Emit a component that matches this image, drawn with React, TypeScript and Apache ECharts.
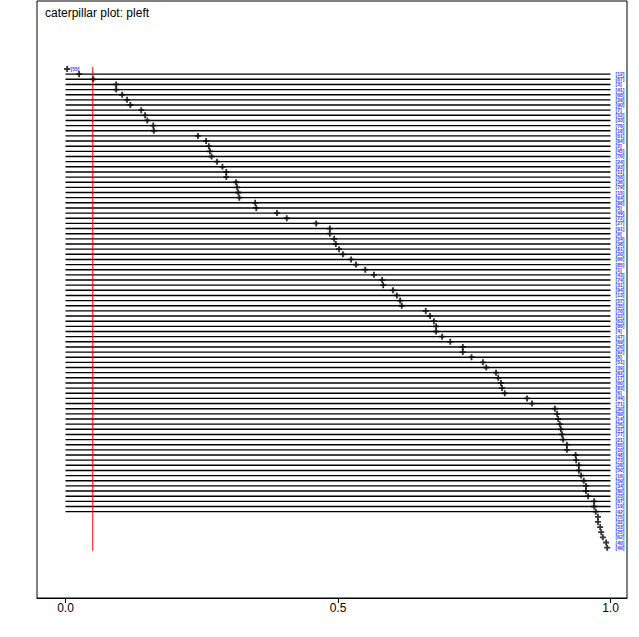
import React, { useEffect, useRef } from "react";
import * as echarts from "echarts";

// posterior summary for each row (sorted)
const rowValues = [
  0.003, 0.025, 0.051, 0.093, 0.093, 0.104, 0.113, 0.119, 0.139, 0.146,
  0.150, 0.161, 0.162, 0.243, 0.258, 0.263, 0.265, 0.268, 0.278, 0.288,
  0.295, 0.295, 0.313, 0.315, 0.317, 0.319, 0.348, 0.350, 0.388, 0.406,
  0.460, 0.485, 0.485, 0.493, 0.496, 0.502, 0.509, 0.524, 0.533, 0.550,
  0.566, 0.581, 0.583, 0.601, 0.608, 0.614, 0.617, 0.661, 0.669, 0.676,
  0.680, 0.680, 0.691, 0.706, 0.729, 0.729, 0.745, 0.766, 0.772, 0.790,
  0.794, 0.799, 0.801, 0.806, 0.847, 0.856, 0.898, 0.902, 0.904, 0.907,
  0.909, 0.911, 0.913, 0.920, 0.920, 0.936, 0.937, 0.942, 0.942, 0.946,
  0.951, 0.955, 0.955, 0.959, 0.970, 0.970, 0.973, 0.977, 0.977, 0.981,
  0.983, 0.986, 0.992, 0.994,
];

const lowerBounds = [
  0, 0, 0, 0, 0, 0, 0, 0, 0, 0,
  0, 0, 0, 0, 0, 0, 0, 0, 0, 0,
  0, 0, 0, 0, 0, 0, 0, 0, 0, 0,
  0, 0, 0, 0, 0, 0, 0, 0, 0, 0,
  0, 0, 0, 0, 0, 0, 0, 0, 0, 0,
  0, 0, 0, 0, 0, 0, 0, 0, 0, 0,
  0, 0, 0, 0, 0, 0, 0, 0, 0, 0,
  0, 0, 0, 0, 0, 0, 0, 0, 0, 0,
  0, 0, 0, 0, 0, 0, 0, 1, 1, 1,
  1, 1, 1, 1,
];

const upperBounds = [
  0, 1, 1, 1, 1, 1, 1, 1, 1, 1,
  1, 1, 1, 1, 1, 1, 1, 1, 1, 1,
  1, 1, 1, 1, 1, 1, 1, 1, 1, 1,
  1, 1, 1, 1, 1, 1, 1, 1, 1, 1,
  1, 1, 1, 1, 1, 1, 1, 1, 1, 1,
  1, 1, 1, 1, 1, 1, 1, 1, 1, 1,
  1, 1, 1, 1, 1, 1, 1, 1, 1, 1,
  1, 1, 1, 1, 1, 1, 1, 1, 1, 1,
  1, 1, 1, 1, 1, 1, 1, 1, 1, 1,
  1, 1, 1, 1,
];

const rowIds = [
  55, 12, 87, 3, 41, 68, 29, 90, 7, 52,
  33, 76, 18, 61, 84, 2, 45, 70, 24, 93,
  11, 58, 36, 79, 15, 64, 88, 5, 49, 72,
  27, 91, 9, 54, 38, 81, 20, 66, 85, 1,
  43, 74, 31, 94, 13, 57, 35, 78, 22, 63,
  86, 4, 47, 69, 26, 92, 8, 51, 39, 82,
  17, 60, 83, 6, 44, 71, 30, 89, 14, 56,
  37, 77, 21, 65, 10, 48, 73, 28, 50, 16,
  59, 34, 80, 23, 67, 19, 42, 75, 32, 53,
  25, 62, 40, 46,
];

const xTicks = [0, 0.5, 1];
const refValue = 0.05;
const titleText = "caterpillar plot: pleft";

export default function App() {
  const ref = useRef<HTMLDivElement>(null);

  useEffect(() => {
    if (!ref.current) return;
    const chart = echarts.init(ref.current, null, { renderer: "svg" });
    const n = rowValues.length;

    const option: any = {
      animation: false,
      backgroundColor: "#ffffff",
      title: {
        text: titleText,
        left: 40,
        top: 2,
        textStyle: {
          fontFamily: "Liberation Sans, Arial, sans-serif",
          fontSize: 12,
          fontWeight: "normal",
          color: "#000",
        },
      },
      grid: {
        left: 37,
        right: 12,
        top: 1,
        bottom: 39,
        show: true,
        borderColor: "#000",
        borderWidth: 1,
        backgroundColor: "transparent",
      },
      xAxis: {
        type: "value",
        min: -0.0523,
        max: 1.0303,
        position: "bottom",
        splitLine: { show: false },
        axisLine: { show: true, onZero: false, lineStyle: { color: "#000", width: 1 } },
        axisTick: {
          show: true,
          customValues: xTicks,
          length: 5,
          lineStyle: { color: "#000" },
        },
        axisLabel: {
          show: true,
          customValues: xTicks,
          formatter: (v: number) => v.toFixed(1),
          color: "#000",
          fontSize: 12,
          fontFamily: "Liberation Sans, Arial, sans-serif",
          margin: 4,
        },
      },
      yAxis: {
        type: "value",
        inverse: true,
        min: -13.21,
        max: 102.78,
        show: false,
        splitLine: { show: false },
      },
      series: [
        {
          type: "custom",
          coordinateSystem: "cartesian2d",
          data: rowValues.map((_, i) => [lowerBounds[i], upperBounds[i], i, rowIds[i]]),
          encode: { x: [0, 1], y: 2 },
          renderItem: (params: any, api: any) => {
            const lo = api.value(0);
            const hi = api.value(1);
            const r = api.value(2);
            const id = api.value(3);
            const p1 = api.coord([lo, r]);
            const p2 = api.coord([hi, r]);
            const children: any[] = [];
            if (hi > lo) {
              children.push({
                type: "line",
                shape: { x1: p1[0], y1: p1[1], x2: p2[0], y2: p2[1] },
                style: { stroke: "#000", lineWidth: 1.4 },
              });
            }
            children.push({
              type: "text",
              x: p2[0] + 5,
              y: p2[1],
              style: {
                text: "[" + id + "]",
                fill: "#3a3aff",
                fontSize: 5,
                fontWeight: "bold",
                fontFamily: "Liberation Sans, Arial, sans-serif",
                align: "left",
                verticalAlign: "middle",
              },
            });
            return { type: "group", children };
          },
          z: 2,
        },
        {
          type: "line",
          data: [
            [refValue, -0.4],
            [refValue, n - 0.4],
          ],
          showSymbol: false,
          symbol: "none",
          lineStyle: { color: "#ff0000", width: 1 },
          z: 3,
        },
        {
          type: "scatter",
          data: rowValues.map((v, i) => [v, i]),
          symbol: "path://M-0.9,-3H0.9V-0.9H3V0.9H0.9V3H-0.9V0.9H-3V-0.9H-0.9Z",
          symbolSize: 6,
          itemStyle: { color: "#000" },
          z: 4,
        },
      ],
    };

    chart.setOption(option);
    return () => chart.dispose();
  }, []);

  return (
    <div
      ref={ref}
      style={{ position: "fixed", left: 0, top: 0, width: 639, height: 637 }}
    />
  );
}
